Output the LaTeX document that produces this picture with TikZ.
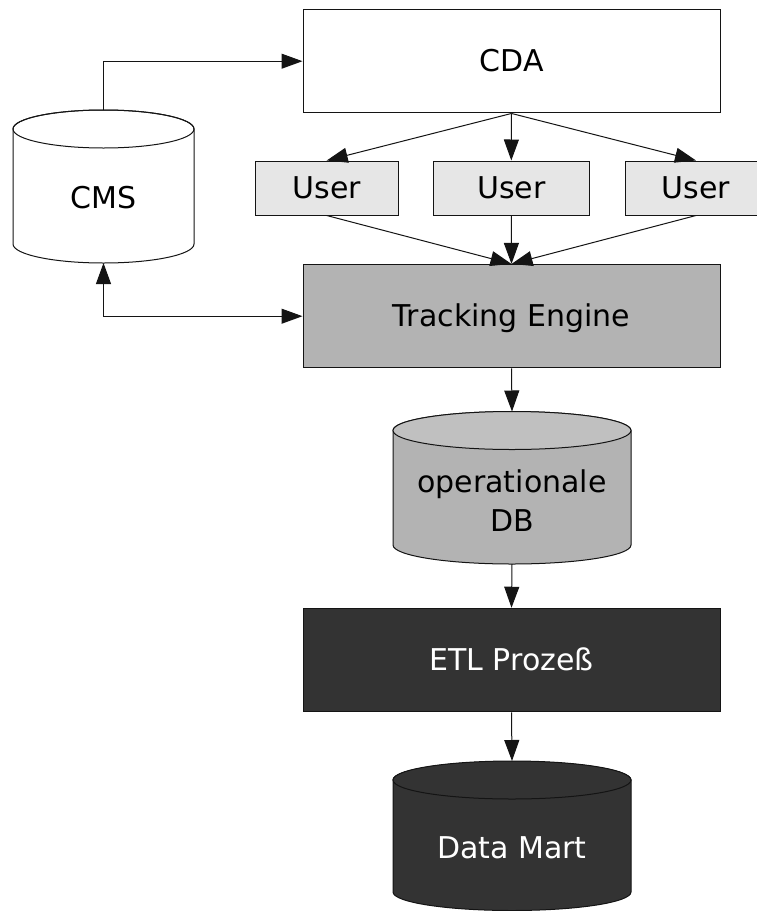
\documentclass[tikz,border=0pt]{standalone}
\usepackage{fontspec}
\setmainfont{DejaVu Sans}
\usetikzlibrary{arrows.meta}

\definecolor{userfill}{HTML}{E6E6E6}
\definecolor{midgray}{HTML}{B3B3B3}
\definecolor{midtop}{HTML}{C0C0C0}
\definecolor{darkfill}{HTML}{333333}
\definecolor{edge}{HTML}{141414}

\tikzset{
  box/.style={draw=edge, line width=1pt, inner sep=0pt, minimum height=103.5pt,
    minimum width=417pt, text height=21.5pt, text depth=0pt,
    font=\fontsize{30}{39}\selectfont},
  userbox/.style={box, fill=userfill, minimum height=54pt},
  label/.style={inner sep=0pt, align=center, font=\fontsize{30}{39}\selectfont},
  cyl/.style={draw=edge, line width=1pt},
  arr/.style={draw=edge, line width=1pt, -{Triangle[length=21pt,width=15pt]}},
  arrboth/.style={draw=edge, line width=1pt,
    {Triangle[length=21pt,width=15pt]}-{Triangle[length=21pt,width=15pt]}},
}

\begin{document}
\begin{tikzpicture}[x=1pt,y=-1pt]
\useasboundingbox (0,0) rectangle (757,911);
\clip (0,0) rectangle (757,911);
\fill[white] (0,0) rectangle (757,911);

% CMS store
\path[cyl, fill=white] (13,129) -- (13,244)
  arc[start angle=180, end angle=0, x radius=90.5, y radius=19]
  -- (194,129) arc[start angle=0, end angle=-180, x radius=90.5, y radius=19] -- cycle;
\draw[cyl] (103.5,129) ellipse[x radius=90.5, y radius=19];
\coordinate (cmsTop) at (103.5,110);
\coordinate (cmsBot) at (103.5,263);
\node[label] (cms) at (103.5,197.5) {CMS};

% boxes
\node[box, fill=white] (cda) at (511.5,61.2) {CDA};
\node[userbox, minimum width=143pt] (u1) at (326.7,188) {User};
\node[userbox, minimum width=156pt] (u2) at (511.3,188) {User};
\node[userbox, minimum width=141pt] (u3) at (696,188) {User};
\node[box, fill=midgray] (te) at (511.5,316.2) {Tracking Engine};

% operational database
\path[cyl, fill=midgray] (393,430.5) -- (393,545)
  arc[start angle=180, end angle=0, x radius=119, y radius=19]
  -- (631,430.5) arc[start angle=0, end angle=-180, x radius=119, y radius=19] -- cycle;
\draw[cyl, fill=midtop] (512,430.5) ellipse[x radius=119, y radius=19];
\coordinate (dbTop) at (512,411.5);
\coordinate (dbBot) at (512,564);
\node[label] (db) at (512,501) {operationale\\DB};

\node[box, fill=darkfill, text=white] (etl) at (511.5,660) {ETL Prozeß};

% data mart
\path[cyl, fill=darkfill] (393,780) -- (393,892)
  arc[start angle=180, end angle=0, x radius=119, y radius=18.5]
  -- (631,780) arc[start angle=0, end angle=-180, x radius=119, y radius=18.5] -- cycle;
\draw[cyl, fill=darkfill] (512,780) ellipse[x radius=119, y radius=19];
\coordinate (dmTop) at (512,761);
\node[label, text=white] (dm) at (512,847.5) {Data Mart};

% connectors
\draw[arr] (cmsTop) |- (cda.west);
\draw[arrboth] (cmsBot) |- (te.west);
\draw[arr] (cda.south) -- (u1.north);
\draw[arr] (cda.south) -- (u2.north);
\draw[arr] (cda.south) -- (u3.north);
\draw[arr] (u1.south) -- (te.north);
\draw[arr] (u2.south) -- (te.north);
\draw[arr] (u3.south) -- (te.north);
\draw[arr] (te.south) -- (dbTop);
\draw[arr] (dbBot) -- (etl.north);
\draw[arr] (etl.south) -- (dmTop);
\end{tikzpicture}
\end{document}
